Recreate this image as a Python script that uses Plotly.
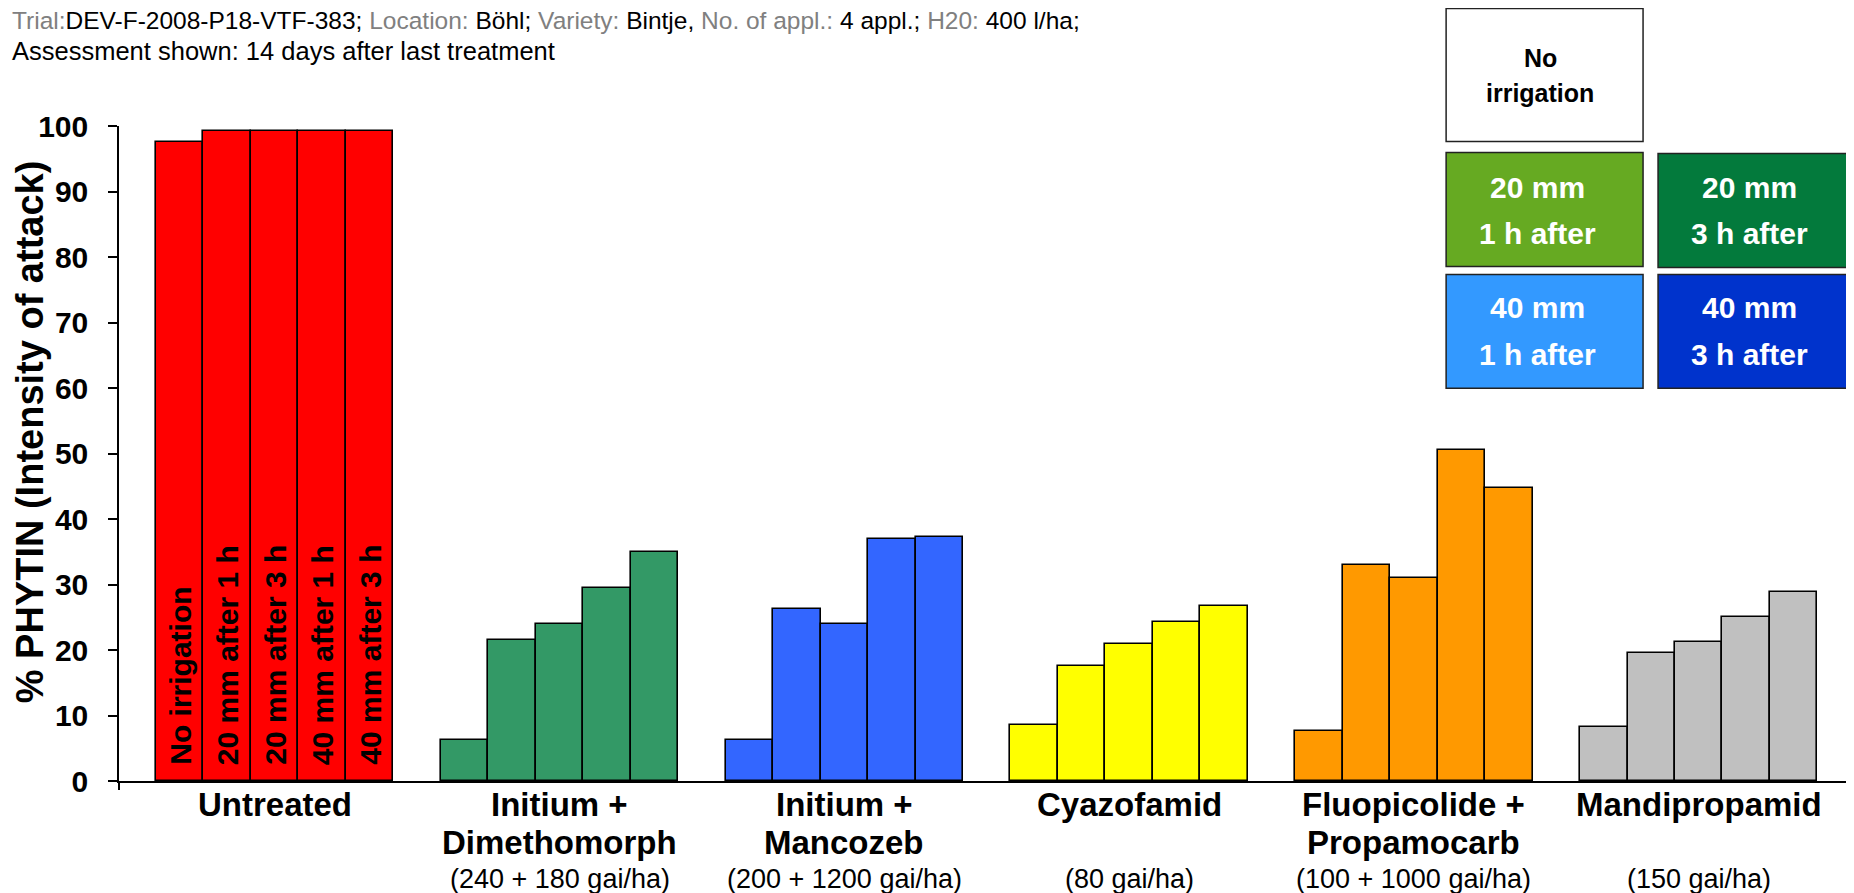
import plotly.graph_objects as go

# ---------------- data ----------------
groups_line1 = ["Untreated", "Initium +", "Initium +", "Cyazofamid", "Fluopicolide +", "Mandipropamid"]
groups_line2 = ["", "Dimethomorph", "Mancozeb", "", "Propamocarb", ""]
doses = ["", "(240 + 180 gai/ha)", "(200 + 1200 gai/ha)", "(80 gai/ha)", "(100 + 1000 gai/ha)", "(150 gai/ha)"]
treatments = ["No irrigation", "20 mm after 1 h", "20 mm after 3 h", "40 mm after 1 h", "40 mm after 3 h"]

untreated = [97.6, 99.2, 99.2, 99.2, 99.2]
initium_dimethomorph = [6.2, 21.5, 23.9, 29.4, 34.9]
initium_mancozeb = [6.2, 26.3, 23.9, 37.0, 37.3]
cyazofamid = [8.6, 17.5, 20.9, 24.2, 26.7]
fluopicolide_propamocarb = [7.7, 33.0, 31.0, 50.5, 44.7]
mandipropamid = [8.3, 19.6, 21.2, 25.1, 28.8]

series = [untreated, initium_dimethomorph, initium_mancozeb, cyazofamid,
          fluopicolide_propamocarb, mandipropamid]
colors = ["#FF0000", "#339966", "#3366FF", "#FFFF00", "#FF9900", "#C0C0C0"]

legend_labels = [["No", "irrigation"], ["20 mm", "1 h after"], ["20 mm", "3 h after"],
                 ["40 mm", "1 h after"], ["40 mm", "3 h after"]]
legend_colors = ["#FFFFFF", "#66AA22", "#037A3C", "#3399FF", "#0033CC"]
legend_text_colors = ["#000000", "#FFFFFF", "#FFFFFF", "#FFFFFF", "#FFFFFF"]

# ---------------- figure geometry ----------------
OFF = 8  # page body margin
W, H = 1854 - OFF, 893 - OFF
ML, MR, MT, MB = 110.5, 1, 117.5, 112
PW, PH = W - ML - MR, H - MT - MB
SLOT = 6  # 5 bars + 1 gap per group
XMIN, XMAX = -1.28, 35.25

FONT = "Arial, Liberation Sans, sans-serif"


def px2paper_x(px):  # px: page pixel
    return (px - OFF - ML) / PW


def px2paper_y(py):
    return (H - MB - (py - OFF)) / PH


fig = go.Figure()
for g, vals in enumerate(series):
    xs = [g * SLOT + j for j in range(len(vals))]
    fig.add_trace(go.Bar(
        x=xs, y=vals, width=1,
        marker=dict(color=colors[g], line=dict(color="#000000", width=1.6)),
        showlegend=False,
        hoverinfo="x+y",
    ))

annotations = []
# labels inside the untreated bars
for j, txt in enumerate(treatments):
    annotations.append(dict(
        x=j, xref="x", y=0, yref="y", xanchor="center", yanchor="bottom",
        yshift=14, textangle=-90, showarrow=False, text=txt,
        font=dict(family=FONT, size=30, color="#000000", weight="bold")))

# category labels
for g in range(len(groups_line1)):
    cx = g * SLOT + 2
    for txt, dy, bold, size in [(groups_line1[g], 23, True, 33),
                                (groups_line2[g], 61, True, 33),
                                (doses[g], 98, False, 27)]:
        if not txt:
            continue
        annotations.append(dict(
            x=cx, xref="x", y=0, yref="paper", yshift=-dy,
            xanchor="center", yanchor="middle", showarrow=False, text=txt,
            font=dict(family=FONT, size=size, color="#000000",
                      weight="bold" if bold else "normal")))

# y axis title
annotations.append(dict(
    x=px2paper_x(29.5), xref="paper", y=px2paper_y(432), yref="paper",
    xanchor="center", yanchor="middle", showarrow=False, textangle=-90,
    text="% PHYTIN (Intensity of attack)",
    font=dict(family=FONT, size=38, color="#000000", weight="bold")))

# header
grey = "#808080"
line1 = (f"<span style='color:{grey}'>Trial:</span>DEV-F-2008-P18-VTF-383;"
         f"<span style='color:{grey}'> Location:</span> Böhl;"
         f"<span style='color:{grey}'> Variety:</span> Bintje,"
         f"<span style='color:{grey}'> No. of appl.:</span> 4 appl.;"
         f"<span style='color:{grey}'> H20:</span> 400 l/ha;")
line2 = "Assessment shown: 14 days after last treatment"
for txt, py, size in [(line1, 20, 24.5), (line2, 50, 25.5)]:
    annotations.append(dict(
        x=px2paper_x(9), xref="paper", y=px2paper_y(py), yref="paper",
        xanchor="left", yanchor="middle", showarrow=False, text=txt,
        font=dict(family=FONT, size=size, color="#000000")))

# legend boxes (drawn as shapes with text)
shapes = []
box_pos = [(1446, 1643, 8, 141), (1446, 1643, 152, 266), (1658, 1870, 153, 267),
           (1446, 1643, 274, 388), (1658, 1870, 274, 388)]
text_cx = [1540, 1537, 1749, 1537, 1749]
text_cy = [[57, 92], [187, 233], [187, 233], [307, 354], [307, 354]]
text_size = [25, 30, 30, 30, 30]
for i, (x0, x1, y0, y1) in enumerate(box_pos):
    shapes.append(dict(type="rect", xref="paper", yref="paper",
                       x0=px2paper_x(x0), x1=px2paper_x(x1),
                       y0=px2paper_y(y1), y1=px2paper_y(y0),
                       fillcolor=legend_colors[i],
                       line=dict(color="#222222", width=1.5), layer="above"))
    for txt, py in zip(legend_labels[i], text_cy[i]):
        annotations.append(dict(
            x=px2paper_x(text_cx[i]), xref="paper", y=px2paper_y(py), yref="paper",
            xanchor="center", yanchor="middle", showarrow=False, text=txt,
            font=dict(family=FONT, size=text_size[i], color=legend_text_colors[i],
                      weight="bold")))

fig.update_layout(
    width=W, height=H,
    margin=dict(l=ML, r=MR, t=MT, b=MB, pad=0),
    paper_bgcolor="#FFFFFF", plot_bgcolor="#FFFFFF",
    bargap=0, barmode="overlay",
    annotations=annotations, shapes=shapes,
    font=dict(family=FONT, color="#000000"),
    xaxis=dict(range=[XMIN, XMAX], showgrid=False, zeroline=False,
               showline=True, linecolor="#000000", linewidth=1.5,
               tickmode="array", tickvals=[XMIN, XMAX], ticktext=["", ""],
               ticks="outside", ticklen=7, tickwidth=1.5, tickcolor="#000000",
               showticklabels=False, fixedrange=True),
    yaxis=dict(range=[0, 100], dtick=10, tick0=0, showgrid=False, zeroline=False,
               showline=True, linecolor="#000000", linewidth=1.5,
               ticks="outside", ticklen=9, tickwidth=1.5, tickcolor="#000000",
               ticklabelstandoff=14,
               tickfont=dict(family=FONT, size=30, color="#000000", weight="bold"),
               fixedrange=True),
)

fig.write_html("out.html")
